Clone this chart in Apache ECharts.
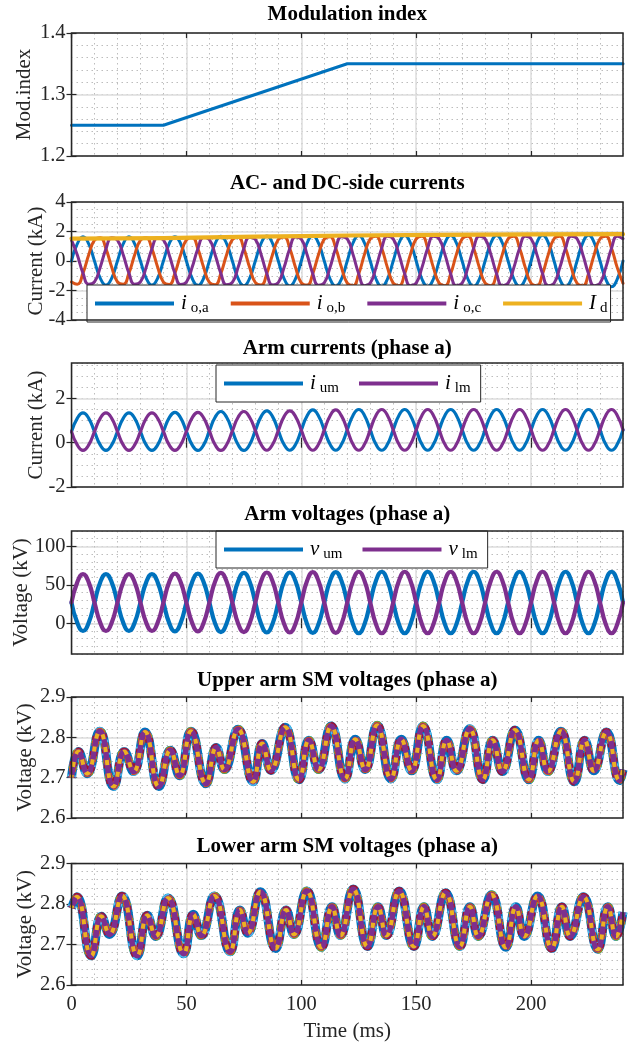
<!DOCTYPE html>
<html>
<head>
<meta charset="utf-8">
<title>MMC waveforms</title>
<script src="https://cdn.jsdelivr.net/npm/echarts@6/dist/echarts.min.js"></script>
<style>
  html, body { margin: 0; padding: 0; background: #fff; }
  #chart { width: 630px; height: 1042px; }
</style>
</head>
<body>
<div id="chart"></div>
<script>
// ---------------- data ----------------
const xTicks = [0, 50, 100, 150, 200];

// sample instants (ms) shared by the sinusoidal traces
const timeMs = [
  0, 2.5, 5, 7.5, 10, 12.5, 15, 17.5, 20, 22.5, 25, 27.5, 30, 32.5, 35, 37.5,
  40, 42.5, 45, 47.5, 50, 52.5, 55, 57.5, 60, 62.5, 65, 67.5, 70, 72.5, 75, 77.5,
  80, 82.5, 85, 87.5, 90, 92.5, 95, 97.5, 100, 102.5, 105, 107.5, 110, 112.5, 115, 117.5,
  120, 122.5, 125, 127.5, 130, 132.5, 135, 137.5, 140, 142.5, 145, 147.5, 150, 152.5, 155, 157.5,
  160, 162.5, 165, 167.5, 170, 172.5, 175, 177.5, 180, 182.5, 185, 187.5, 190, 192.5, 195, 197.5,
  200, 202.5, 205, 207.5, 210, 212.5, 215, 217.5, 220, 222.5, 225, 227.5, 230, 232.5, 235, 237.5,
  240
];

// Modulation index
const modIndex = [[0, 1.25], [40, 1.25], [120, 1.35], [240, 1.35]];
const modTicks = [1.2, 1.3, 1.4];

// AC- and DC-side currents (kA)
const ioA = [
  0, 1.16, 1.64, 1.16, 0, -1.16, -1.64, -1.16,
  0, 1.16, 1.64, 1.16, 0, -1.16, -1.64, -1.16,
  0, 1.17, 1.65, 1.17, 0, -1.17, -1.65, -1.17,
  0, 1.18, 1.67, 1.18, 0, -1.18, -1.67, -1.18,
  0, 1.19, 1.69, 1.19, 0, -1.19, -1.69, -1.19,
  0, 1.21, 1.71, 1.21, 0, -1.21, -1.71, -1.21,
  0, 1.22, 1.73, 1.22, 0, -1.22, -1.73, -1.22,
  0, 1.22, 1.73, 1.22, 0, -1.22, -1.73, -1.22,
  0, 1.22, 1.73, 1.22, 0, -1.22, -1.73, -1.22,
  0, 1.22, 1.73, 1.22, 0, -1.22, -1.73, -1.22,
  0, 1.23, 1.74, 1.23, 0, -1.23, -1.74, -1.23,
  0, 1.23, 1.74, 1.23, 0, -1.23, -1.74, -1.23,
  0
];
const ioB = [
  -1.42, -1.58, -0.82, 0.42, 1.42, 1.58, 0.82, -0.42,
  -1.42, -1.58, -0.82, 0.42, 1.42, 1.58, 0.82, -0.42,
  -1.43, -1.59, -0.83, 0.43, 1.43, 1.59, 0.83, -0.43,
  -1.45, -1.61, -0.84, 0.43, 1.45, 1.61, 0.84, -0.43,
  -1.46, -1.63, -0.85, 0.44, 1.46, 1.63, 0.85, -0.44,
  -1.48, -1.65, -0.86, 0.44, 1.48, 1.65, 0.86, -0.44,
  -1.50, -1.67, -0.87, 0.45, 1.50, 1.67, 0.87, -0.45,
  -1.50, -1.67, -0.87, 0.45, 1.50, 1.67, 0.87, -0.45,
  -1.50, -1.67, -0.87, 0.45, 1.50, 1.67, 0.87, -0.45,
  -1.50, -1.67, -0.87, 0.45, 1.50, 1.67, 0.87, -0.45,
  -1.51, -1.68, -0.87, 0.45, 1.51, 1.68, 0.87, -0.45,
  -1.51, -1.68, -0.87, 0.45, 1.51, 1.68, 0.87, -0.45,
  -1.51
];
const ioC = [
  1.42, 0.42, -0.82, -1.58, -1.42, -0.42, 0.82, 1.58,
  1.42, 0.42, -0.82, -1.58, -1.42, -0.42, 0.82, 1.58,
  1.43, 0.43, -0.83, -1.59, -1.43, -0.43, 0.83, 1.59,
  1.45, 0.43, -0.84, -1.61, -1.45, -0.43, 0.84, 1.61,
  1.46, 0.44, -0.85, -1.63, -1.46, -0.44, 0.85, 1.63,
  1.48, 0.44, -0.86, -1.65, -1.48, -0.44, 0.86, 1.65,
  1.50, 0.45, -0.87, -1.67, -1.50, -0.45, 0.87, 1.67,
  1.50, 0.45, -0.87, -1.67, -1.50, -0.45, 0.87, 1.67,
  1.50, 0.45, -0.87, -1.67, -1.50, -0.45, 0.87, 1.67,
  1.50, 0.45, -0.87, -1.67, -1.50, -0.45, 0.87, 1.67,
  1.51, 0.45, -0.87, -1.68, -1.51, -0.45, 0.87, 1.68,
  1.51, 0.45, -0.87, -1.68, -1.51, -0.45, 0.87, 1.68,
  1.51
];
const idDc = [[0, 1.52], [20, 1.53], [40, 1.55], [60, 1.6], [80, 1.65], [100, 1.69],
  [120, 1.73], [160, 1.77], [200, 1.8], [240, 1.82]];
const acdcTicks = [-4, -2, 0, 2, 4];

// Arm currents, phase a (kA)
const iUm = [
  0.50, 1.10, 1.35, 1.10, 0.50, -0.10, -0.35, -0.10,
  0.50, 1.10, 1.35, 1.10, 0.50, -0.10, -0.35, -0.10,
  0.51, 1.12, 1.37, 1.12, 0.51, -0.10, -0.35, -0.10,
  0.53, 1.15, 1.41, 1.15, 0.53, -0.09, -0.35, -0.09,
  0.55, 1.18, 1.44, 1.18, 0.55, -0.08, -0.34, -0.08,
  0.57, 1.21, 1.48, 1.21, 0.57, -0.07, -0.34, -0.07,
  0.58, 1.23, 1.50, 1.23, 0.58, -0.07, -0.34, -0.07,
  0.58, 1.23, 1.50, 1.23, 0.58, -0.07, -0.34, -0.07,
  0.58, 1.23, 1.50, 1.23, 0.58, -0.07, -0.34, -0.07,
  0.58, 1.23, 1.50, 1.23, 0.58, -0.07, -0.34, -0.07,
  0.58, 1.23, 1.50, 1.23, 0.58, -0.07, -0.34, -0.07,
  0.58, 1.23, 1.50, 1.23, 0.58, -0.07, -0.34, -0.07,
  0.58
];
const iLm = [
  0.50, -0.10, -0.35, -0.10, 0.50, 1.10, 1.35, 1.10,
  0.50, -0.10, -0.35, -0.10, 0.50, 1.10, 1.35, 1.10,
  0.51, -0.10, -0.35, -0.10, 0.51, 1.12, 1.37, 1.12,
  0.53, -0.09, -0.35, -0.09, 0.53, 1.15, 1.41, 1.15,
  0.55, -0.08, -0.34, -0.08, 0.55, 1.18, 1.44, 1.18,
  0.57, -0.07, -0.34, -0.07, 0.57, 1.21, 1.48, 1.21,
  0.58, -0.07, -0.34, -0.07, 0.58, 1.23, 1.50, 1.23,
  0.58, -0.07, -0.34, -0.07, 0.58, 1.23, 1.50, 1.23,
  0.58, -0.07, -0.34, -0.07, 0.58, 1.23, 1.50, 1.23,
  0.58, -0.07, -0.34, -0.07, 0.58, 1.23, 1.50, 1.23,
  0.58, -0.07, -0.34, -0.07, 0.58, 1.23, 1.50, 1.23,
  0.58, -0.07, -0.34, -0.07, 0.58, 1.23, 1.50, 1.23,
  0.58
];
const armCurTicks = [-2, 0, 2];

// Arm voltages, phase a (kV)
const vUm = [
  27, 0.8, -10, 0.8, 27, 53.2, 64, 53.2,
  27, 0.8, -10, 0.8, 27, 53.2, 64, 53.2,
  27, 0.5, -10.5, 0.5, 27, 53.5, 64.5, 53.5,
  27, -0.2, -11.5, -0.2, 27, 54.2, 65.5, 54.2,
  27, -0.6, -12, -0.6, 27, 54.6, 66, 54.6,
  27, -0.9, -12.5, -0.9, 27, 54.9, 66.5, 54.9,
  27, -1.3, -13, -1.3, 27, 55.3, 67, 55.3,
  27, -1.3, -13, -1.3, 27, 55.3, 67, 55.3,
  27, -1.3, -13, -1.3, 27, 55.3, 67, 55.3,
  27, -1.3, -13, -1.3, 27, 55.3, 67, 55.3,
  27, -1.3, -13, -1.3, 27, 55.3, 67, 55.3,
  27, -1.3, -13, -1.3, 27, 55.3, 67, 55.3,
  27
];
const vLm = [
  27, 53.2, 64, 53.2, 27, 0.8, -10, 0.8,
  27, 53.2, 64, 53.2, 27, 0.8, -10, 0.8,
  27, 53.5, 64.5, 53.5, 27, 0.5, -10.5, 0.5,
  27, 54.2, 65.5, 54.2, 27, -0.2, -11.5, -0.2,
  27, 54.6, 66, 54.6, 27, -0.6, -12, -0.6,
  27, 54.9, 66.5, 54.9, 27, -0.9, -12.5, -0.9,
  27, 55.3, 67, 55.3, 27, -1.3, -13, -1.3,
  27, 55.3, 67, 55.3, 27, -1.3, -13, -1.3,
  27, 55.3, 67, 55.3, 27, -1.3, -13, -1.3,
  27, 55.3, 67, 55.3, 27, -1.3, -13, -1.3,
  27, 55.3, 67, 55.3, 27, -1.3, -13, -1.3,
  27, 55.3, 67, 55.3, 27, -1.3, -13, -1.3,
  27
];
const armVoltTicks = [0, 50, 100];

// SM capacitor voltages (kV), turning points of the traced band
const smUpper = [
  [0, 2.70], [3, 2.765], [6.8, 2.71], [12.3, 2.815], [18.3, 2.678],
  [23, 2.765], [27, 2.715], [32, 2.813], [38, 2.678],
  [43, 2.768], [47, 2.705], [52, 2.815], [58.5, 2.685],
  [63, 2.775], [66.5, 2.72], [72.5, 2.82], [79, 2.69],
  [83, 2.785], [86.8, 2.718], [93, 2.825], [99, 2.695],
  [103.3, 2.793], [107.5, 2.72], [113, 2.828], [119, 2.697],
  [123.5, 2.795], [127.8, 2.72], [133, 2.83], [139, 2.697],
  [143.5, 2.795], [148, 2.717], [153, 2.828], [159, 2.695],
  [163.3, 2.793], [167.5, 2.717], [173.3, 2.821], [179, 2.695],
  [183.3, 2.793], [187.5, 2.715], [193, 2.818], [199, 2.695],
  [203.3, 2.793], [207.3, 2.715], [213, 2.815], [218.8, 2.69],
  [223.3, 2.793], [227.3, 2.717], [232.8, 2.813], [238.5, 2.693],
  [240, 2.72]
];
const smLower = [
  [0, 2.79], [2.3, 2.818], [8.6, 2.672], [13, 2.77], [16.5, 2.725],
  [22, 2.82], [28.6, 2.672], [33, 2.772], [36.6, 2.72],
  [42, 2.815], [48.8, 2.677], [53, 2.775], [56.5, 2.722],
  [62.2, 2.82], [69, 2.682], [73.3, 2.785], [76.7, 2.728],
  [82.2, 2.83], [88.8, 2.69], [93.4, 2.785], [96.8, 2.725],
  [102.4, 2.832], [108.8, 2.693], [113.4, 2.793], [117, 2.722],
  [122.6, 2.837], [128.8, 2.695], [133.4, 2.793], [137, 2.722],
  [142.6, 2.832], [149, 2.695], [153.4, 2.793], [157, 2.72],
  [162.8, 2.828], [169, 2.695], [173.4, 2.793], [177, 2.72],
  [182.8, 2.823], [189, 2.693], [193.4, 2.793], [197, 2.72],
  [202.8, 2.82], [209, 2.69], [213.4, 2.793], [217, 2.72],
  [222.8, 2.818], [229, 2.688], [233.4, 2.793], [237, 2.72],
  [240, 2.78]
];
const smTicks = [2.6, 2.7, 2.8, 2.9];

// ---------------- styling ----------------
const FONT = '"Liberation Serif", "Times New Roman", serif';
const INK = '#262626';
const MAJOR_GRID = '#dcdcdc';
const MINOR_GRID = '#bdbdbd';
const C = {
  blue: '#0072BD', orange: '#D95319', yellow: '#EDB120', purple: '#7E2F8E',
  green: '#77AC30', cyan: '#4DBEEE', red: '#A2142F'
};

const PLOT_LEFT = 71.5;
const PLOT_WIDTH = 551.5;

const panels = [
  { title: 'Modulation index', titleY: 15, top: 33, height: 123, min: 1.2, max: 1.4, ticks: modTicks, minor: 0.02, name: 'Mod.index', nameGap: 37 },
  { title: 'AC- and DC-side currents', titleY: 184, top: 202, height: 118, min: -4, max: 4, ticks: acdcTicks, minor: 0.5, name: 'Current (kA)', nameGap: 25 },
  { title: 'Arm currents (phase a)', titleY: 349, top: 363, height: 124, min: -2, max: 3.6, ticks: armCurTicks, minor: 0.5, name: 'Current (kA)', nameGap: 25 },
  { title: 'Arm voltages (phase a)', titleY: 515, top: 531, height: 123, min: -40, max: 120, ticks: armVoltTicks, minor: 10, name: 'Voltage (kV)', nameGap: 40 },
  { title: 'Upper arm SM voltages (phase a)', titleY: 681, top: 697, height: 121, min: 2.6, max: 2.9, ticks: smTicks, minor: 0.02, name: 'Voltage (kV)', nameGap: 36 },
  { title: 'Lower arm SM voltages (phase a)', titleY: 847, top: 863.5, height: 121.5, min: 2.6, max: 2.9, ticks: smTicks, minor: 0.02, name: 'Voltage (kV)', nameGap: 36 }
];

const tickFont = { fontFamily: FONT, fontSize: 20.5, color: INK };
const nameFont = { fontFamily: FONT, fontSize: 21, color: INK };
const tickLine = { color: INK, width: 1.2 };
const minorSplit = { show: true, lineStyle: { color: MINOR_GRID, width: 1, type: [1.5, 3.5] } };
const majorSplit = { show: true, lineStyle: { color: MAJOR_GRID, width: 1.5 } };
const hidden = { axisLine: { show: false }, axisTick: { show: false }, axisLabel: { show: false } };

const grids = [];
const xAxes = [];
const yAxes = [];
const titles = [];

panels.forEach((p, i) => {
  const last = i === panels.length - 1;
  grids.push({
    left: PLOT_LEFT, width: PLOT_WIDTH, top: p.top, height: p.height,
    show: true, borderColor: INK, borderWidth: 1.5, backgroundColor: 'transparent',
    z: 5, outerBoundsMode: 'none'
  });

  const xb = { gridIndex: i, type: 'value', min: 0, max: 240 };
  xAxes.push(
    { ...xb, interval: 10, ...hidden, splitLine: minorSplit },
    {
      ...xb, position: 'bottom', axisLine: { show: false },
      axisTick: { show: true, inside: true, length: 5, customValues: xTicks, lineStyle: tickLine },
      axisLabel: { show: last, customValues: xTicks, margin: 9, ...tickFont },
      splitLine: majorSplit,
      name: last ? 'Time (ms)' : '', nameLocation: 'middle', nameGap: 36,
      nameMoveOverlap: false, nameTextStyle: nameFont
    },
    {
      ...xb, position: 'top', axisLine: { show: false },
      axisTick: { show: true, inside: true, length: 5, customValues: xTicks, lineStyle: tickLine },
      axisLabel: { show: false }, splitLine: { show: false }
    }
  );

  const yb = { gridIndex: i, type: 'value', min: p.min, max: p.max };
  yAxes.push(
    { ...yb, interval: p.minor, ...hidden, splitLine: minorSplit },
    {
      ...yb, position: 'left', axisLine: { show: false },
      axisTick: { show: true, inside: true, length: 5, customValues: p.ticks, lineStyle: tickLine },
      axisLabel: { customValues: p.ticks, margin: 6, ...tickFont },
      splitLine: majorSplit,
      name: p.name, nameLocation: 'middle', nameGap: p.nameGap,
      nameMoveOverlap: false, nameTextStyle: nameFont
    },
    {
      ...yb, position: 'right', axisLine: { show: false },
      axisTick: { show: true, inside: true, length: 5, customValues: p.ticks, lineStyle: tickLine },
      axisLabel: { show: false }, splitLine: { show: false }
    }
  );

  titles.push({
    text: p.title, left: PLOT_LEFT + PLOT_WIDTH / 2, top: p.titleY - 11, textAlign: 'center', padding: 0,
    textStyle: { fontFamily: FONT, fontSize: 21, fontWeight: 'bold', color: '#000' }
  });
});

const pair = (ys) => timeMs.map((t, k) => [t, ys[k]]);

function trace(panel, name, data, color, width, extra) {
  return Object.assign({
    name, type: 'line', data,
    xAxisIndex: panel * 3 + 1, yAxisIndex: panel * 3 + 1,
    symbol: 'none', smooth: 0.5, silent: true,
    lineStyle: { color, width, cap: 'round', join: 'round' },
    itemStyle: { color }
  }, extra || {});
}

// overlapping submodule traces: one waveform drawn in several colours
const smLayers = [
  { c: C.blue, w: 9, t: 'solid', o: 0 },
  { c: C.cyan, w: 8.5, t: [3, 9], o: 0 },
  { c: C.green, w: 8.5, t: [2, 13], o: 6 },
  { c: C.red, w: 8, t: [4, 11], o: 3 },
  { c: C.orange, w: 7, t: [6, 9], o: 9 },
  { c: C.purple, w: 5.5, t: 'solid', o: 0 },
  { c: C.yellow, w: 4, t: [5, 8], o: 2 }
];
function smBand(panel, tag, data) {
  return smLayers.map((l, k) => trace(panel, tag + k, data, l.c, l.w, {
    lineStyle: { color: l.c, width: l.w, type: l.t, dashOffset: l.o, cap: 'butt', join: 'round' }
  }));
}

const series = [
  trace(0, 'mod', modIndex, C.blue, 3, { smooth: false }),
  trace(1, 'ioa', pair(ioA), C.blue, 3),
  trace(1, 'iob', pair(ioB), C.orange, 3),
  trace(1, 'ioc', pair(ioC), C.purple, 3),
  trace(1, 'Id', idDc, C.yellow, 4.2, { smooth: false }),
  trace(2, 'ium', pair(iUm), C.blue, 3.2),
  trace(2, 'ilm', pair(iLm), C.purple, 3.2),
  trace(3, 'vum', pair(vUm), C.blue, 4.2),
  trace(3, 'vlm', pair(vLm), C.purple, 4.2),
  ...smBand(4, 'smu', smUpper),
  ...smBand(5, 'sml', smLower)
];

// legend labels: italic symbol + subscript
const legendLabel = {
  ioa: '{i|i}{s|o,a}', iob: '{i|i}{s|o,b}', ioc: '{i|i}{s|o,c}', Id: '{i|I}{s|d}',
  ium: '{i|i}{s|um}', ilm: '{i|i}{s|lm}', vum: '{i|v}{s|um}', vlm: '{i|v}{s|lm}'
};
const legendRich = {
  i: { fontFamily: FONT, fontStyle: 'italic', fontSize: 21, lineHeight: 20, color: '#000', padding: [0, 4, 0, 0] },
  s: { fontFamily: FONT, fontSize: 15, lineHeight: 14, color: '#000', padding: [10, 0, 0, 0] }
};
function legendBox(names, left, top, gap, padRight) {
  return {
    data: names, left, top, orient: 'horizontal',
    icon: 'rect', itemWidth: 79, itemHeight: 4, itemGap: gap,
    padding: [6, padRight, 6, 8],
    backgroundColor: '#fff', borderColor: INK, borderWidth: 1,
    selectedMode: false,
    formatter: (n) => legendLabel[n],
    textStyle: { fontFamily: FONT, fontSize: 20, color: '#000', rich: legendRich, padding: [0, 0, 0, 2] }
  };
}

const chart = echarts.init(document.getElementById('chart'), null, { renderer: 'canvas' });
chart.setOption({
  animation: false,
  backgroundColor: '#fff',
  title: titles,
  grid: grids,
  xAxis: xAxes,
  yAxis: yAxes,
  legend: [
    legendBox(['ioa', 'iob', 'ioc', 'Id'], 87, 285, 22, 3),
    legendBox(['ium', 'ilm'], 216, 365, 20, 10),
    legendBox(['vum', 'vlm'], 216, 531, 20, 10)
  ],
  series
});
</script>
</body>
</html>
